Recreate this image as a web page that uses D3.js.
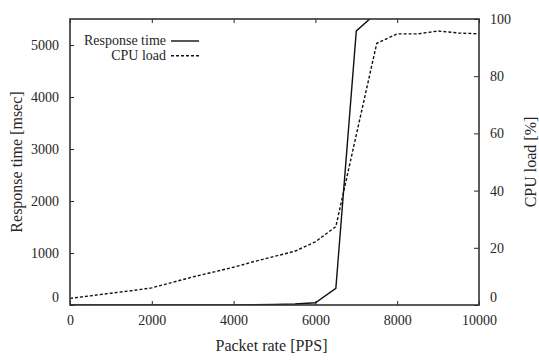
<!DOCTYPE html>
<html lang="en">
<head>
    <meta charset="UTF-8">
    <script src="https://d3js.org/d3.v7.min.js"></script>
    <title>Response time and CPU load</title>
    <style>
        body { margin: 0; background: #fff; }
        svg text { font-family: "Liberation Serif", "Times New Roman", Tinos, "DejaVu Serif", serif !important; fill: #262626; }
    </style>
</head>
<body>
<div id="viz"></div>
<script>
    // packet rates [PPS]
    const packetRate = [0, 500, 1000, 1500, 2000, 2500, 3000, 3500, 4000, 4500, 5000,
        5500, 6000, 6500, 7000, 7500, 8000, 8500, 9000, 9500, 10000];
    // response time [msec] (goes off the top of the chart after 7000)
    const responseTime = [0, 0, 0, 0, 0, 0, 0, 0, 0, 4, 9,
        18, 44, 320, 5270, 5620, 6000, 6200, 6400, 6600, 6800];
    // CPU load [%]
    const cpuLoad = [2.3, 3.2, 4.1, 5.0, 6.0, 7.9, 9.8, 11.5, 13.2, 15.2, 17.0,
        18.8, 22.1, 27.4, 59.5, 91.5, 94.8, 94.8, 95.8, 95.1, 94.8];

    const xTicks = [0, 2000, 4000, 6000, 8000, 10000];
    const yLeftTicks = [0, 1000, 2000, 3000, 4000, 5000];
    const yRightTicks = [0, 20, 40, 60, 80, 100];

    const W = 539, H = 363;
    const margin = {top: 19, right: 60, bottom: 58, left: 70},
        width = W - margin.left - margin.right,
        height = H - margin.top - margin.bottom;

    const serif = "'Liberation Serif', 'Times New Roman', Tinos, 'DejaVu Serif', serif";

    const svgRoot = d3.select("#viz")
        .append("svg")
        .attr("width", W)
        .attr("height", H)
        .attr("font-family", serif);
    const svg = svgRoot.append("g")
        .attr("transform", `translate(${margin.left}, ${margin.top})`);

    const x = d3.scaleLinear().domain([0, 10000]).range([0, width]);
    const yL = d3.scaleLinear().domain([0, 5500]).range([height, 0]);
    const yR = d3.scaleLinear().domain([0, 100]).range([height, 0]);

    const ink = "#262626";
    const fmt = d3.format("d");

    // axes (ticks point inward)
    svg.append("g")
        .attr("transform", `translate(0, ${height})`)
        .call(d3.axisBottom(x).tickValues(xTicks).tickFormat(fmt).tickSizeInner(-4).tickSizeOuter(0).tickPadding(10));
    svg.append("g")
        .call(d3.axisTop(x).tickValues(xTicks).tickSizeInner(-4).tickSizeOuter(0).tickFormat(""));
    const gl = svg.append("g")
        .call(d3.axisLeft(yL).tickValues(yLeftTicks).tickFormat(fmt).tickSizeInner(-4).tickSizeOuter(0).tickPadding(11));
    const gr = svg.append("g")
        .attr("transform", `translate(${width}, 0)`)
        .call(d3.axisRight(yR).tickValues(yRightTicks).tickFormat(fmt).tickSizeInner(-5).tickSizeOuter(0).tickPadding(11));

    svg.selectAll(".domain").remove();
    svg.selectAll(".tick line").attr("stroke", ink).attr("stroke-width", 1);
    svg.selectAll(".tick").attr("font-family", null);
    svg.selectAll("g").attr("font-family", null);
    svg.selectAll(".tick text")
        .style("font-size", "14px")
        .attr("fill", ink);
    // zero labels sit a little above the baseline
    gl.selectAll(".tick text").filter(d => d === 0).attr("dy", "-0.25em");
    gr.selectAll(".tick text").filter(d => d === 0).attr("dy", "-0.25em");

    // clip
    svg.append("clipPath").attr("id", "clip")
        .append("rect").attr("width", width).attr("height", height);

    const lineResp = d3.line()
        .x((d, i) => x(packetRate[i]))
        .y(d => yL(d));
    const lineCpu = d3.line()
        .x((d, i) => x(packetRate[i]))
        .y(d => yR(d));

    svg.append("path")
        .datum(cpuLoad)
        .attr("clip-path", "url(#clip)")
        .attr("fill", "none")
        .attr("stroke", "#111")
        .attr("stroke-width", 1.4)
        .attr("stroke-dasharray", "3,2")
        .attr("d", lineCpu);

    svg.append("path")
        .datum(responseTime)
        .attr("clip-path", "url(#clip)")
        .attr("fill", "none")
        .attr("stroke", "#111")
        .attr("stroke-width", 1.4)
        .attr("d", lineResp);

    // frame
    svg.append("rect")
        .attr("width", width)
        .attr("height", height)
        .attr("fill", "none")
        .attr("stroke", "#333")
        .attr("stroke-width", 1.6);

    // legend
    const legend = [
        {label: "Response time", dash: null},
        {label: "CPU load", dash: "3,2"}
    ];
    const lg = svg.selectAll(".legend")
        .data(legend)
        .join("g")
        .attr("transform", (d, i) => `translate(0, ${22 + i * 14.7})`);
    lg.append("text")
        .attr("x", 96)
        .attr("dy", "0.32em")
        .attr("text-anchor", "end")
        .style("font-size", "14px")
        .text(d => d.label);
    lg.append("line")
        .attr("x1", 101).attr("x2", 129)
        .attr("stroke", "#111")
        .attr("stroke-width", 1.4)
        .attr("stroke-dasharray", d => d.dash);

    // axis titles
    svgRoot.append("text")
        .attr("x", margin.left + width / 2 - 3)
        .attr("y", 351)
        .attr("text-anchor", "middle")
        .style("font-size", "16px")
        .text("Packet rate [PPS]");
    svgRoot.append("text")
        .attr("transform", `translate(22, ${margin.top + height / 2}) rotate(-90)`)
        .attr("text-anchor", "middle")
        .style("font-size", "16px")
        .text("Response time [msec]");
    svgRoot.append("text")
        .attr("transform", `translate(536, ${margin.top + height / 2}) rotate(-90)`)
        .attr("text-anchor", "middle")
        .style("font-size", "16px")
        .text("CPU load [%]");
</script>
</body>
</html>
